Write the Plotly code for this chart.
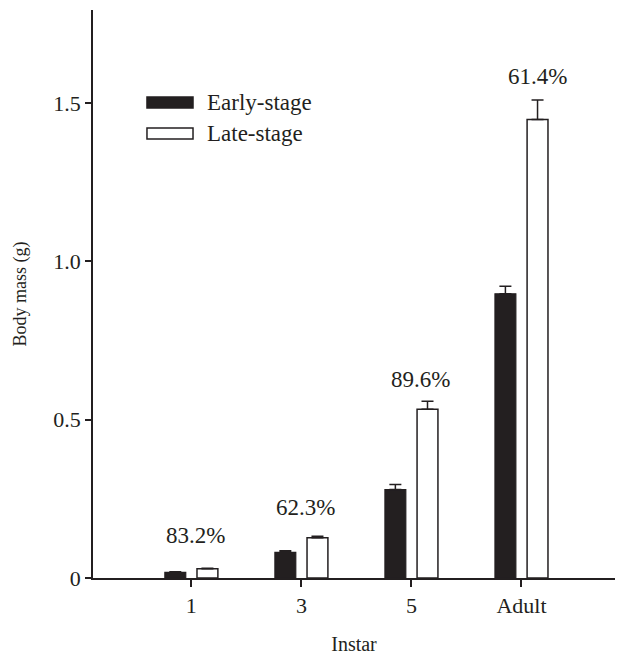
import plotly.graph_objects as go

categories = ["1", "3", "5", "Adult"]
early_mean = [0.018, 0.081, 0.279, 0.897]
early_err = [0.002, 0.005, 0.016, 0.024]
late_mean = [0.029, 0.127, 0.533, 1.447]
late_err = [0.002, 0.005, 0.025, 0.062]
pct_labels = ["83.2%", "62.3%", "89.6%", "61.4%"]
series_names = ["Early-stage", "Late-stage"]

# label placement (pixels), layout only
label_dx = [4, 4, 9, 16]
label_dy = [18, 14, 7, 9]

FONT = "Liberation Serif, Times New Roman, serif"
INK = "#231f20"
FILLS = [INK, "white"]

fig = go.Figure()
fig.add_trace(go.Bar(
    x=categories, y=early_mean, name=series_names[0], showlegend=False,
    marker=dict(color=FILLS[0], line=dict(color=INK, width=1.2)),
    error_y=dict(type="data", array=early_err, arrayminus=[0]*4, symmetric=False,
                 color=INK, thickness=1.5, width=6),
))
fig.add_trace(go.Bar(
    x=categories, y=late_mean, name=series_names[1], showlegend=False,
    marker=dict(color=FILLS[1], line=dict(color=INK, width=1.5)),
    error_y=dict(type="data", array=late_err, arrayminus=[0]*4, symmetric=False,
                 color=INK, thickness=1.5, width=6),
))

for i, (m, e, t) in enumerate(zip(late_mean, late_err, pct_labels)):
    fig.add_annotation(x=i, y=m + e, text=t, showarrow=False, xanchor="center",
                       yanchor="bottom", xshift=label_dx[i], yshift=label_dy[i],
                       font=dict(family=FONT, size=23, color=INK))

# legend drawn as wide swatches + text (paper coordinates)
leg_rows = [(0.8275, 0.8468), (0.7729, 0.7923)]
for name, fill, (y0, y1) in zip(series_names, FILLS, leg_rows):
    fig.add_shape(type="rect", xref="paper", yref="paper",
                  x0=0.1034, x1=0.1916, y0=y0, y1=y1,
                  fillcolor=fill, line=dict(color=INK, width=1.5))
    fig.add_annotation(xref="paper", yref="paper", x=0.2146, y=(y0 + y1) / 2,
                       text=name, showarrow=False, xanchor="left", yanchor="middle",
                       font=dict(family=FONT, size=23, color=INK))

fig.update_layout(
    width=628, height=657,
    margin=dict(l=85, r=21, t=2, b=87),
    paper_bgcolor="white", plot_bgcolor="white",
    barmode="group", bargap=0.416, bargroupgap=0.35,
    font=dict(family=FONT, size=22, color=INK),
    showlegend=False,
    xaxis=dict(type="category", range=[-0.894, 3.85], showline=True, linecolor=INK, linewidth=1.5,
               ticks="outside", ticklen=7, tickwidth=1.5, tickcolor=INK,
               showgrid=False, zeroline=False,
               title=dict(text="Instar", font=dict(family=FONT, size=20), standoff=20),
               tickfont=dict(family=FONT, size=22)),
    yaxis=dict(range=[0, 1.793], showline=True, linecolor=INK, linewidth=1.5,
               ticks="outside", ticklen=6, tickwidth=1.5, tickcolor=INK,
               tickvals=[0, 0.5, 1.0, 1.5], ticktext=["0", "0.5", "1.0", "1.5"],
               showgrid=False, zeroline=False,
               title=dict(text="Body mass (g)", font=dict(family=FONT, size=18), standoff=22),
               tickfont=dict(family=FONT, size=22)),
)

fig.write_html("out.html")
